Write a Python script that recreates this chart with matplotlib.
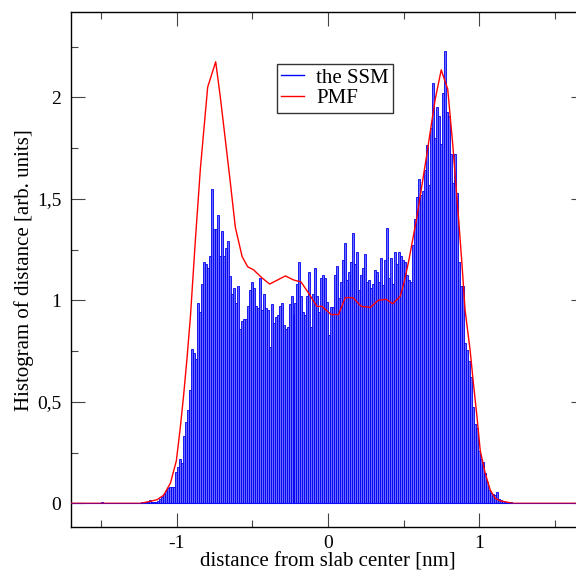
import numpy as np
import matplotlib
matplotlib.use("Agg")
import matplotlib.pyplot as plt
from matplotlib.lines import Line2D
from matplotlib.ticker import FixedLocator, MultipleLocator

# ---------------- data ----------------
bin_start = -1.7          # left edge of first histogram bin [nm]
bin_width = 0.0132        # histogram bin width [nm]
n_bins = 258
first_filled_bin = 34     # index of first bin in hist_values
tiny_bin = 15             # isolated tiny count far left
tiny_value = 0.008

hist_values = [
    0.0, 0.005, 0.0, 0.005, 0.005, 0.015, 0.008, 0.005, 0.008, 0.012,
    0.02, 0.03, 0.045, 0.06, 0.075, 0.08, 0.08, 0.08, 0.156, 0.18,
    0.22, 0.20, 0.33, 0.40, 0.46, 0.56, 0.76, 0.74, 0.71, 0.985,
    0.94, 1.08, 1.19, 1.18, 1.16, 1.22, 1.55, 1.35, 1.35, 1.42,
    1.22, 1.34, 1.22, 1.26, 1.29, 1.12, 1.03, 1.06, 0.985, 1.07,
    0.86, 0.90, 0.91, 0.91, 0.97, 1.05, 1.09, 1.06, 0.97, 0.96,
    1.11, 0.95, 1.03, 0.96, 0.95, 0.77, 0.98, 0.89, 0.92, 0.93,
    0.97, 0.985, 0.88, 0.86, 0.87, 0.98, 1.02, 0.93, 0.985, 1.08,
    1.19, 1.02, 0.94, 0.93, 1.02, 1.14, 0.87, 1.03, 1.16, 1.02,
    0.94, 1.11, 1.125, 1.11, 0.99, 0.83, 0.965, 0.965, 1.125, 1.17,
    1.01, 1.09, 1.20, 1.28, 1.10, 1.14, 1.19, 1.33, 1.18, 1.24,
    1.05, 1.125, 1.16, 1.23, 1.09, 1.10, 1.06, 1.08, 1.15, 1.14,
    1.09, 1.21, 1.075, 1.20, 1.355, 1.11, 1.21, 1.08, 1.24, 1.18,
    1.24, 1.22, 1.20, 1.19, 1.125, 1.10, 1.09, 1.27, 1.40, 1.51,
    1.60, 1.52, 1.54, 1.64, 1.765, 1.57, 1.85, 2.07, 1.80, 1.95,
    1.91, 1.77, 2.02, 2.23, 1.93, 1.91, 1.72, 1.58, 1.72, 1.53,
    1.19, 1.07, 1.07, 0.79, 0.755, 0.70, 0.62, 0.475, 0.39, 0.37,
    0.26, 0.22, 0.205, 0.15, 0.106, 0.065, 0.05, 0.045, 0.04, 0.057,
    0.02, 0.015, 0.01, 0.005, 0.005, 0.005, 0.005,
]

pmf_x = [-1.70, -1.24, -1.174, -1.13, -1.087, -1.042, -1.003, -0.976, -0.954,
         -0.932, -0.910, -0.877, -0.844, -0.796, -0.743, -0.712, -0.679, -0.646,
         -0.613, -0.568, -0.531, -0.492, -0.436, -0.386, -0.282, -0.227, -0.178,
         -0.128, -0.073, -0.040, 0.020, 0.070, 0.114, 0.165, 0.220, 0.280, 0.332,
         0.385, 0.428, 0.478, 0.504, 0.533, 0.588, 0.654, 0.709, 0.749, 0.792,
         0.826, 0.863, 0.886, 0.907, 0.940, 0.962, 0.985, 1.007, 1.040, 1.073,
         1.106, 1.139, 1.225, 1.70]
pmf_y = [0.0, 0.0, 0.01, 0.018, 0.04, 0.10, 0.21, 0.38, 0.54,
         0.72, 0.92, 1.30, 1.65, 2.05, 2.175, 2.0, 1.79, 1.58,
         1.36, 1.215, 1.165, 1.15, 1.11, 1.08, 1.12, 1.10, 1.09,
         1.035, 0.97, 0.97, 0.93, 0.93, 1.013, 1.013, 0.97, 0.965, 1.0,
         1.005, 0.983, 1.02, 1.09, 1.19, 1.41, 1.72, 1.99, 2.135, 2.04,
         1.76, 1.41, 1.18, 0.95, 0.755, 0.59, 0.43, 0.26, 0.148, 0.066,
         0.025, 0.012, 0.0, 0.0]

x_ticks = [-1, 0, 1]
x_tick_labels = ["-1", "0", "1"]
y_ticks = [0, 0.5, 1, 1.5, 2]
y_tick_labels = ["0", "0,5", "1", "1,5", "2"]
legend_labels = ["the SSM", "PMF"]

# ---------------- build histogram arrays ----------------
heights = np.zeros(n_bins)
heights[tiny_bin] = tiny_value
heights[first_filled_bin:first_filled_bin + len(hist_values)] = hist_values
centers = bin_start + (np.arange(n_bins) + 0.5) * bin_width

# ---------------- figure ----------------
plt.rcParams['font.family'] = ['Liberation Serif', 'DejaVu Serif']
fig = plt.figure(figsize=(5.76, 5.72), dpi=100)
ax = fig.add_axes([71 / 576, 1 - 527 / 572, (585 - 71) / 576, (527 - 12.3) / 572])

ax.bar(centers, heights, width=bin_width, color='#6a6aff', edgecolor='#0000f0',
       linewidth=0.6, zorder=2)
ax.plot(pmf_x, pmf_y, color='#ff0000', lw=1.0, zorder=3)
ax.axhline(0, color='#0000ff', lw=0.9, alpha=0.45, zorder=4)

ax.set_xlim(-1.7, 1.7)
ax.set_ylim(-0.1167, 2.4187)

ax.xaxis.set_major_locator(FixedLocator(x_ticks))
ax.set_xticklabels(x_tick_labels)
ax.xaxis.set_minor_locator(MultipleLocator(0.5))
ax.yaxis.set_major_locator(FixedLocator(y_ticks))
ax.set_yticklabels(y_tick_labels)
ax.yaxis.set_minor_locator(MultipleLocator(0.25))

ax.tick_params(which='both', direction='in', top=True, right=True,
               labelsize=14, color='#444444', width=0.8)
ax.tick_params(axis='x', pad=6)
ax.tick_params(axis='y', pad=7)
ax.tick_params(which='major', length=10)
ax.tick_params(which='minor', length=5)
for s in ax.spines.values():
    s.set_linewidth(1.0)
    s.set_color('black')

ax.set_xlabel("distance from slab center [nm]", fontsize=15, labelpad=0)
ax.set_ylabel("Histogram of distance [arb. units]", fontsize=15, labelpad=2)

handles = [Line2D([0], [0], color='#0000ff', lw=1.0),
           Line2D([0], [0], color='#ff0000', lw=1.0)]
leg = fig.legend(handles, legend_labels, loc='upper left',
                 bbox_to_anchor=(276.7 / 576, 1 - 64 / 572),
                 fontsize=15, frameon=True, fancybox=False, shadow=False,
                 handlelength=1.1, handletextpad=0.6, borderpad=0.2,
                 labelspacing=0.05, borderaxespad=0)
leg.get_frame().set_edgecolor('black')
leg.get_frame().set_linewidth(1.0)

fig.savefig("out.png", dpi=100)
